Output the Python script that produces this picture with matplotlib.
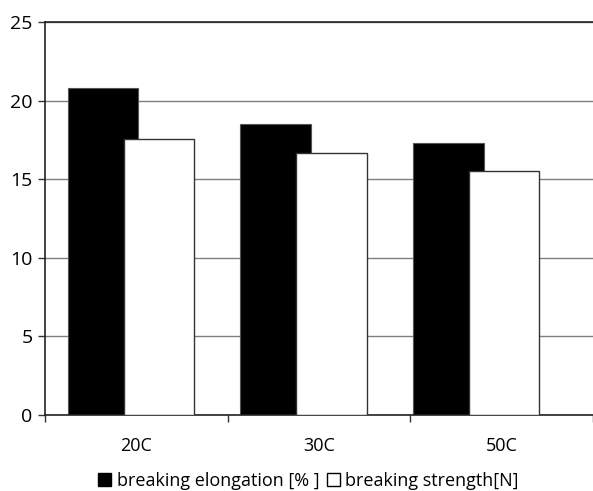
import matplotlib.pyplot as plt
import numpy as np
from matplotlib.patches import Patch

# data
categories = ["20C", "30C", "50C"]
elongation = [20.8, 18.5, 17.3]
strength = [17.55, 16.65, 15.5]

plt.rcParams['font.family'] = ['Open Sans', 'DejaVu Sans']

fig = plt.figure(figsize=(5.93, 4.91), dpi=100)
ax = fig.add_axes([0.076, 0.155, 0.924, 0.8])

xc = np.arange(len(categories))
step = 0.946
w = 0.385
ax.bar(xc * step - 0.184, elongation, w, color='black', edgecolor='#555555', linewidth=0.8, zorder=2)
ax.bar(xc * step + 0.122, strength, w, color='white', edgecolor='#333333', linewidth=1.0, zorder=3)

ax.set_xlim(-0.5, 2.5)
ax.set_ylim(0, 25)
ax.set_yticks([0, 5, 10, 15, 20, 25])
ax.yaxis.grid(True, color='#7f7f7f', linewidth=1.0, zorder=0)

# category labels between boundary ticks
ax.set_xticks(xc)
ax.set_xticklabels(categories)
ax.set_xticks([-0.5, 0.5, 1.5, 2.5], minor=True)
ax.tick_params(axis='x', which='major', length=0, pad=16, labelsize=13)
ax.tick_params(axis='x', which='minor', length=5, width=1, color='#333333')
ax.tick_params(axis='y', length=5, width=1, color='#333333', labelsize=14, pad=4)

for s in ['left', 'bottom', 'top']:
    ax.spines[s].set_color('#222222')
    ax.spines[s].set_linewidth(1.2)
ax.spines['right'].set_visible(False)

handles = [Patch(facecolor='black', edgecolor='black'),
           Patch(facecolor='white', edgecolor='black')]
fig.legend(handles, ["breaking elongation [% ]", "breaking strength[N]"],
           loc='center', bbox_to_anchor=(0.52, 0.02), ncol=2, frameon=False,
           fontsize=13, handlelength=0.75, handleheight=0.75, handletextpad=0.3,
           columnspacing=0.4, borderpad=0)

fig.savefig('out.png', dpi=100)
